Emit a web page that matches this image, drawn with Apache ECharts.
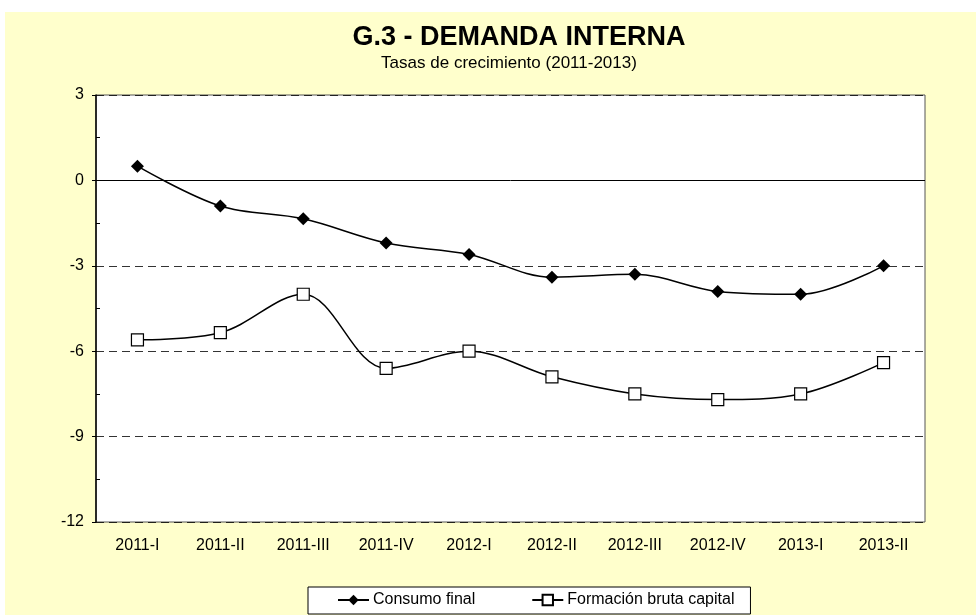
<!DOCTYPE html>
<html>
<head>
<meta charset="utf-8">
<script src="https://cdn.jsdelivr.net/npm/echarts@6/dist/echarts.min.js"></script>
<style>
html,body{margin:0;padding:0;background:#fff;}
#bg{position:absolute;left:5px;top:12px;width:971px;height:603px;background:#FFFFCC;}
#chart{position:absolute;left:0;top:0;width:976px;height:615px;}
</style>
</head>
<body>
<div id="bg"></div>
<div id="chart"></div>
<script>
var categories = ['2011-I','2011-II','2011-III','2011-IV','2012-I','2012-II','2012-III','2012-IV','2013-I','2013-II'];
var consumoFinal = [0.5, -0.9, -1.35, -2.2, -2.6, -3.4, -3.3, -3.9, -4.0, -3.0];
var formacionBruta = [-5.6, -5.35, -4.0, -6.6, -6.0, -6.9, -7.5, -7.7, -7.5, -6.4];
var yTicks = [-12, -9, -6, -3, 0, 3];

var font = "'Liberation Sans', Arial, sans-serif";
var chart = echarts.init(document.getElementById('chart'), null, {renderer:'canvas'});
chart.setOption({
  backgroundColor: 'transparent',
  animation: false,
  title: [{
    text: 'G.3 - DEMANDA INTERNA',
    left: 514, top: 19, textAlign: 'center',
    textStyle: {fontFamily: font, fontSize: 27, fontWeight: 'bold', color: '#000'}
  }, {
    text: 'Tasas de crecimiento (2011-2013)',
    left: 504, top: 50, textAlign: 'center',
    textStyle: {fontFamily: font, fontSize: 17, fontWeight: 'normal', color: '#000'}
  }],
  legend: {
    left: 308, top: 587,
    padding: [5, 16, 6, 29],
    itemWidth: 31, itemHeight: 13, itemGap: 56,
    borderColor: '#000', borderWidth: 1, borderRadius: 0,
    backgroundColor: '#fff',
    textStyle: {fontFamily: font, fontSize: 16, color: '#000', padding: [0,0,0,-1]},
    data: ['Consumo final', 'Formación bruta capital']
  },
  grid: {
    left: 96, top: 95, right: 51, bottom: 93,
    show: true, backgroundColor: '#fff', borderColor: '#555', borderWidth: 1,
    containLabel: false
  },
  xAxis: {
    type: 'category', data: categories, boundaryGap: true,
    axisLine: {show: false}, axisTick: {show: false},
    axisLabel: {fontFamily: font, fontSize: 16, color: '#000', margin: 16, interval: 0}
  },
  yAxis: {
    type: 'value', min: -12, max: 3, interval: 3,
    axisLine: {show: true, lineStyle: {color: '#000', width: 1.5}},
    axisTick: {show: true, length: 4, lineStyle: {color: '#000'}},
    minorTick: {show: true, splitNumber: 2, length: -4, lineStyle: {color: '#000'}},
    axisLabel: {fontFamily: font, fontSize: 16, color: '#000', margin: 12,
      formatter: function(v){ return yTicks.indexOf(v) >= 0 ? String(v) : ''; }},
    splitLine: {show: true, lineStyle: {color: '#000', type: [8, 5], width: 1, opacity: 0.8}}
  },
  series: [
    {
      name: 'Consumo final', type: 'line', data: consumoFinal,
      smooth: 0.35, symbol: 'diamond', symbolSize: 13,
      lineStyle: {color: '#000', width: 1.5},
      itemStyle: {color: '#000', borderColor: '#000', borderWidth: 0},
      z: 5,
      markLine: {
        silent: true, symbol: 'none', label: {show: false},
        lineStyle: {color: '#000', type: 'solid', width: 1},
        data: [{yAxis: 0}]
      }
    },
    {
      name: 'Formación bruta capital', type: 'line', data: formacionBruta,
      smooth: 0.35, symbol: 'rect', symbolSize: 12,
      lineStyle: {color: '#000', width: 1.5},
      itemStyle: {color: '#fff', borderColor: '#000', borderWidth: 1.2},
      z: 5
    }
  ]
});
</script>
</body>
</html>
